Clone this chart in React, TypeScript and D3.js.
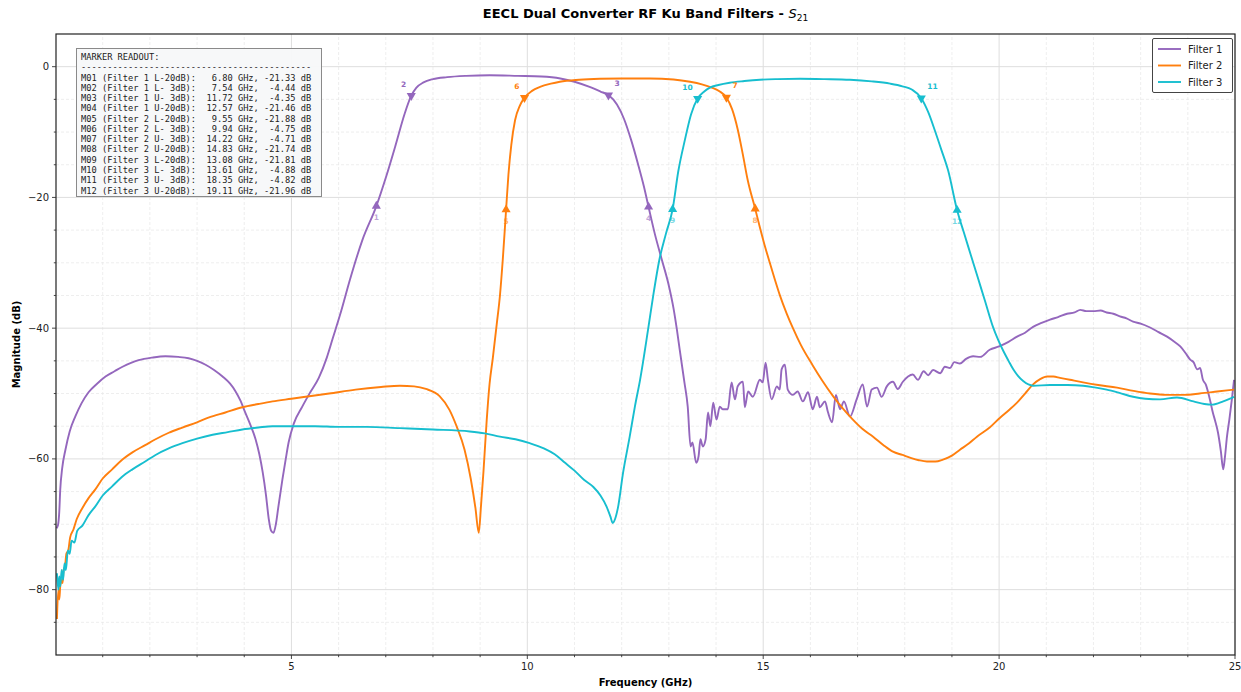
import React, { useEffect, useRef } from 'react'
import * as d3 from 'd3'

// ---- data ----
const filterNames = ['Filter 1', 'Filter 2', 'Filter 3']
const filterColors = ['#9467bd', '#ff7f0e', '#17becf']

// [frequency GHz, magnitude dB]
const filter1: [number, number][] = [
  [0.02, -70.6], [0.05, -70.2], [0.08, -68], [0.1, -64.7], [0.14, -61.5], [0.21, -58.6], [0.3, -55.8],
  [0.42, -53.5], [0.55, -51.5], [0.7, -49.8], [0.88, -48.5], [1.06, -47.4], [1.25, -46.6], [1.42, -45.9],
  [1.6, -45.3], [1.76, -44.9], [2.05, -44.5], [2.33, -44.3], [2.6, -44.4], [2.82, -44.6], [3.0, -45],
  [3.18, -45.6], [3.36, -46.4], [3.54, -47.4], [3.7, -48.5], [3.81, -49.6], [3.92, -51.1], [4.02, -52.9],
  [4.13, -54.8], [4.24, -57], [4.32, -59.3], [4.39, -62], [4.46, -65.5], [4.52, -69.2], [4.57, -71],
  [4.62, -71.3], [4.67, -70], [4.72, -67.5], [4.81, -63.1], [4.88, -60], [4.94, -57.5], [5.05, -54.6],
  [5.23, -52], [5.4, -49.8], [5.58, -47.6], [5.75, -44.5], [5.87, -41.7], [6.05, -37.5], [6.24, -32.6],
  [6.5, -26.6], [6.8, -21.33], [7.0, -17], [7.2, -12.2], [7.4, -7.2], [7.54, -4.44], [7.65, -3.2],
  [7.8, -2.4], [8.0, -1.9], [8.3, -1.6], [8.7, -1.4], [9.2, -1.3], [9.8, -1.4], [10.3, -1.5],
  [10.7, -1.8], [11.0, -2.3], [11.32, -3.1], [11.55, -3.8], [11.72, -4.35], [11.9, -5.8], [12.05, -8],
  [12.2, -11.2], [12.35, -15], [12.47, -18.3], [12.57, -21.46], [12.7, -25.5], [12.85, -29.5],
  [13.0, -33.5], [13.1, -37], [13.17, -40.2], [13.23, -43.3], [13.33, -48.3], [13.4, -52], [13.46, -58.1],
  [13.5, -57.5], [13.58, -60.6], [13.63, -59.6], [13.67, -57], [13.72, -58.1], [13.78, -57], [13.83, -52.9],
  [13.88, -55], [13.94, -51.4], [14.01, -54], [14.08, -52], [14.14, -52.4], [14.25, -52.4], [14.33, -48.3],
  [14.4, -50.9], [14.46, -48.9], [14.57, -48.2], [14.61, -52.1], [14.68, -49.7], [14.78, -50.5],
  [14.93, -47.9], [14.99, -48.3], [15.05, -45.3], [15.1, -47.9], [15.18, -50.9], [15.29, -48.9],
  [15.35, -49.4], [15.39, -46.3], [15.46, -45.6], [15.52, -49.4], [15.63, -50.2], [15.73, -49.7],
  [15.84, -51.2], [15.95, -49.8], [16.05, -52.4], [16.14, -50.5], [16.2, -52.1], [16.31, -51.2],
  [16.37, -52.8], [16.46, -54.4], [16.54, -50.2], [16.63, -52.4], [16.71, -51.2], [16.84, -53.5],
  [16.98, -50.9], [17.11, -48.6], [17.2, -52], [17.3, -49.4], [17.41, -49.1], [17.51, -50.5],
  [17.62, -48.9], [17.75, -48.2], [17.85, -49.3], [17.96, -48.2], [18.07, -47.4], [18.17, -47.1],
  [18.28, -47.9], [18.4, -46.6], [18.5, -47.2], [18.6, -46.4], [18.75, -46.9], [18.85, -45.9],
  [18.96, -46.1], [19.05, -45.2], [19.17, -45.4], [19.3, -44.7], [19.45, -44.3], [19.6, -44.4],
  [19.8, -43.3], [20.0, -42.8], [20.2, -42.1], [20.38, -41.3], [20.55, -40.7], [20.72, -39.8],
  [20.9, -39.2], [21.08, -38.7], [21.25, -38.3], [21.44, -37.8], [21.6, -37.6], [21.72, -37.2],
  [21.85, -37.4], [22.0, -37.4], [22.15, -37.3], [22.28, -37.6], [22.42, -37.8], [22.56, -38.2],
  [22.7, -38.5], [22.84, -39], [23.0, -39.3], [23.2, -39.9], [23.38, -40.6], [23.56, -41.3],
  [23.7, -42.0], [23.84, -42.8], [23.95, -43.8], [24.05, -44.8], [24.12, -45.2], [24.2, -46.3],
  [24.26, -46.1], [24.32, -47.9], [24.38, -48.6], [24.43, -49.8], [24.48, -51.3], [24.53, -52.9],
  [24.58, -54.2], [24.64, -56], [24.7, -58.8], [24.75, -61.6], [24.79, -59.5], [24.83, -56.6],
  [24.88, -54.0], [24.94, -50.5], [24.98, -47.9]
]

const filter2: [number, number][] = [
  [0.03, -84.5], [0.06, -80], [0.08, -81.5], [0.1, -79.5], [0.13, -78.5], [0.15, -79], [0.17, -77],
  [0.2, -76.5], [0.23, -74.5], [0.27, -74], [0.31, -72], [0.38, -70.8], [0.45, -69.2], [0.57, -67.5],
  [0.7, -66], [0.84, -64.7], [1.0, -63], [1.2, -61.6], [1.4, -60.2], [1.63, -59], [1.9, -57.9],
  [2.12, -57], [2.4, -56], [2.69, -55.2], [3.0, -54.4], [3.24, -53.7], [3.6, -52.9], [3.96, -52.1],
  [4.3, -51.6], [4.6, -51.2], [5.0, -50.8], [5.3, -50.5], [5.8, -50], [6.36, -49.4], [6.9, -49.0],
  [7.3, -48.8], [7.6, -48.9], [7.85, -49.3], [8.14, -50.4], [8.35, -52.5], [8.5, -55], [8.67, -58.6],
  [8.8, -63], [8.9, -67.5], [8.97, -71.3], [9.02, -67], [9.07, -62], [9.14, -54], [9.2, -48.5],
  [9.27, -44.5], [9.35, -39.5], [9.42, -35], [9.48, -29.5], [9.55, -21.88], [9.6, -16.5], [9.66, -12],
  [9.74, -8.2], [9.84, -6], [9.94, -4.75], [10.1, -3.7], [10.27, -3.1], [10.5, -2.6], [10.69, -2.3],
  [11.1, -2.0], [11.54, -1.85], [12.0, -1.8], [12.6, -1.8], [13.1, -1.95], [13.45, -2.3], [13.7, -2.7],
  [13.91, -3.2], [14.08, -3.8], [14.22, -4.71], [14.34, -6.5], [14.46, -9.6], [14.57, -13.5],
  [14.67, -17.3], [14.83, -21.74], [14.93, -24.6], [15.03, -27.3], [15.14, -30], [15.24, -32.4],
  [15.35, -34.9], [15.5, -37.8], [15.63, -40.0], [15.8, -42.6], [16.05, -45.7], [16.25, -48.0],
  [16.48, -50.4], [16.7, -52.4], [16.9, -54], [17.1, -55.4], [17.33, -56.6], [17.55, -57.9],
  [17.75, -58.9], [17.95, -59.4], [18.11, -59.8], [18.3, -60.2], [18.47, -60.4], [18.65, -60.4],
  [18.81, -60.1], [19.0, -59.5], [19.17, -58.6], [19.35, -57.7], [19.53, -56.6], [19.8, -55.2],
  [20.02, -53.7], [20.2, -52.6], [20.38, -51.4], [20.55, -50], [20.72, -48.6], [20.87, -47.8],
  [21.02, -47.4], [21.15, -47.4], [21.29, -47.6], [21.5, -47.9], [21.78, -48.3], [22.1, -48.7],
  [22.5, -49.1], [22.85, -49.6], [23.2, -50], [23.55, -50.2], [23.9, -50.2], [24.25, -50], [24.62, -49.7],
  [24.98, -49.4]
]

const filter3: [number, number][] = [
  [0.03, -77.5], [0.06, -80], [0.08, -78], [0.1, -79.5], [0.13, -77], [0.16, -78.5], [0.19, -76],
  [0.22, -77], [0.26, -74], [0.3, -74.5], [0.34, -72.5], [0.4, -72.8], [0.46, -71], [0.57, -70.2],
  [0.7, -68.6], [0.84, -67.3], [1.0, -65.6], [1.2, -64.2], [1.4, -62.8], [1.63, -61.6], [1.9, -60.4],
  [2.12, -59.4], [2.4, -58.4], [2.69, -57.6], [3.0, -56.9], [3.33, -56.3], [3.65, -55.9], [3.96, -55.5],
  [4.3, -55.2], [4.6, -55.0], [5.0, -55], [5.5, -55], [6.0, -55.1], [6.6, -55.1], [7.3, -55.3],
  [8.0, -55.5], [8.78, -55.8], [9.1, -56.1], [9.42, -56.6], [9.75, -57], [10.05, -57.6], [10.35, -58.4],
  [10.58, -59.3], [10.8, -60.6], [11.0, -61.8], [11.2, -63.2], [11.4, -64.3], [11.55, -65.6],
  [11.68, -67.3], [11.76, -68.8], [11.81, -69.8], [11.86, -69.2], [11.92, -67.5], [12.03, -62.1],
  [12.17, -56.6], [12.28, -52], [12.39, -47.9], [12.56, -40.2], [12.68, -34.5], [12.8, -29.5],
  [12.94, -25.5], [13.08, -21.81], [13.2, -16], [13.34, -11.2], [13.47, -7.3], [13.61, -4.88],
  [13.75, -3.8], [13.87, -3.2], [14.05, -2.8], [14.29, -2.45], [14.6, -2.2], [14.93, -2.0], [15.3, -1.9],
  [15.78, -1.85], [16.3, -1.9], [16.84, -2.0], [17.3, -2.25], [17.69, -2.6], [17.95, -3.0], [18.15, -3.5],
  [18.35, -4.82], [18.5, -7], [18.64, -9.8], [18.78, -12.8], [18.92, -15.9], [19.11, -21.96],
  [19.25, -25.3], [19.4, -28.8], [19.55, -32.3], [19.7, -35.8], [19.87, -39.8], [19.98, -41.8],
  [20.09, -43.5], [20.2, -45.0], [20.3, -46.3], [20.4, -47.3], [20.51, -48.1], [20.72, -48.8],
  [21.08, -48.7], [21.45, -48.7], [21.78, -48.8], [22.05, -49.1], [22.28, -49.4], [22.55, -49.9],
  [22.84, -50.5], [23.1, -50.8], [23.41, -50.9], [23.77, -50.6], [24.12, -51.2], [24.35, -51.6],
  [24.52, -51.7], [24.75, -51.2], [24.98, -50.5]
]

const markerFreq = [6.80, 7.54, 11.72, 12.57, 9.55, 9.94, 14.22, 14.83, 13.08, 13.61, 18.35, 19.11]
const markerMag = [-21.33, -4.44, -4.35, -21.46, -21.88, -4.75, -4.71, -21.74, -21.81, -4.88, -4.82, -21.96]
const markerFilter = [1, 1, 1, 1, 2, 2, 2, 2, 3, 3, 3, 3]
const markerEdge = ['L', 'L', 'U', 'U', 'L', 'L', 'U', 'U', 'L', 'L', 'U', 'U']
const markerLevel = [20, 3, 3, 20, 20, 3, 3, 20, 20, 3, 3, 20]

const xMajorTicks = [5, 10, 15, 20, 25]
const yMajorTicks = [0, -20, -40, -60, -80]

export default function App() {
  const ref = useRef<SVGSVGElement>(null)

  useEffect(() => {
    const width = 1241
    const height = 692
    const margin = { top: 34, right: 6, bottom: 37, left: 56 }

    const svg = d3.select(ref.current)
    svg.selectAll('*').remove()
    svg.attr('width', width).attr('height', height)
    svg.append('rect').attr('width', width).attr('height', height).attr('fill', '#fff')

    const x = d3.scaleLinear().domain([0.01, 25]).range([margin.left, width - margin.right])
    const y = d3.scaleLinear().domain([-90, 5]).range([height - margin.bottom, margin.top])
    const [x0, x1] = x.range()
    const [y0, y1] = y.range()

    const xMinor = d3.range(1, 25).filter(v => v % 5 !== 0)
    const yMinor = d3.range(-85, 5, 5).filter(v => v % 20 !== 0)

    // grid
    const grid = svg.append('g')
    grid.selectAll('.xm').data(xMinor).enter().append('line')
      .attr('x1', d => x(d)).attr('x2', d => x(d)).attr('y1', y0).attr('y2', y1)
      .attr('stroke', '#e6e6e6').attr('stroke-width', 0.7).attr('stroke-dasharray', '3,2')
    grid.selectAll('.ym').data(yMinor).enter().append('line')
      .attr('y1', d => y(d)).attr('y2', d => y(d)).attr('x1', x0).attr('x2', x1)
      .attr('stroke', '#e6e6e6').attr('stroke-width', 0.7).attr('stroke-dasharray', '3,2')
    grid.selectAll('.xM').data(xMajorTicks).enter().append('line')
      .attr('x1', d => x(d)).attr('x2', d => x(d)).attr('y1', y0).attr('y2', y1)
      .attr('stroke', '#dedede').attr('stroke-width', 1)
    grid.selectAll('.yM').data(yMajorTicks).enter().append('line')
      .attr('y1', d => y(d)).attr('y2', d => y(d)).attr('x1', x0).attr('x2', x1)
      .attr('stroke', '#dedede').attr('stroke-width', 1)

    // curves
    const line = d3.line<[number, number]>()
      .x(d => x(d[0]))
      .y(d => y(d[1]))
      .curve(d3.curveMonotoneX)

    const series = [filter1, filter2, filter3]
    series.forEach((s, i) => {
      svg.append('path')
        .attr('d', line(s))
        .attr('fill', 'none')
        .attr('stroke', filterColors[i])
        .attr('stroke-width', 1.9)
        .attr('stroke-linejoin', 'round')
    })

    // markers
    const tri = d3.symbol(d3.symbolTriangle, 36)
    markerFreq.forEach((f, i) => {
      const color = filterColors[markerFilter[i] - 1]
      const px = x(f)
      const py = y(markerMag[i])
      const is20 = markerLevel[i] === 20
      svg.append('path')
        .attr('d', tri())
        .attr('transform', `translate(${px},${py}) rotate(${is20 ? 0 : 180})`)
        .attr('fill', color)
      const label = svg.append('text')
        .text(String(i + 1))
        .attr('fill', color)
        .attr('font-family', 'DejaVu Sans')
        .attr('font-weight', 'bold')
        .attr('font-size', 7.5)
      if (is20) {
        label.attr('x', px).attr('y', py + 14).attr('text-anchor', 'middle').attr('fill-opacity', 0.6)
      } else if (markerEdge[i] === 'L') {
        label.attr('x', px - 5).attr('y', py - 9).attr('text-anchor', 'end')
      } else {
        label.attr('x', px + 6).attr('y', py - 9).attr('text-anchor', 'start')
      }
    })

    // spines
    svg.append('rect')
      .attr('x', x0).attr('y', y1).attr('width', x1 - x0).attr('height', y0 - y1)
      .attr('fill', 'none').attr('stroke', '#222').attr('stroke-width', 1.2)

    // ticks
    const axisFont = 'DejaVu Sans'
    const tickG = svg.append('g').attr('stroke', '#333').attr('stroke-width', 0.9)
    xMajorTicks.forEach(v => tickG.append('line').attr('x1', x(v)).attr('x2', x(v)).attr('y1', y0).attr('y2', y0 + 4))
    xMinor.forEach(v => tickG.append('line').attr('x1', x(v)).attr('x2', x(v)).attr('y1', y0).attr('y2', y0 + 2.2))
    yMajorTicks.forEach(v => tickG.append('line').attr('y1', y(v)).attr('y2', y(v)).attr('x1', x0).attr('x2', x0 - 4))
    yMinor.forEach(v => tickG.append('line').attr('y1', y(v)).attr('y2', y(v)).attr('x1', x0).attr('x2', x0 - 2.2))

    svg.append('g').selectAll('text').data(xMajorTicks).enter().append('text')
      .attr('x', d => x(d)).attr('y', y0 + 15)
      .attr('text-anchor', 'middle').attr('font-family', axisFont).attr('font-size', 10).attr('fill', '#222')
      .text(d => String(d))
    svg.append('g').selectAll('text').data(yMajorTicks).enter().append('text')
      .attr('x', x0 - 7).attr('y', d => y(d) + 3.6)
      .attr('text-anchor', 'end').attr('font-family', axisFont).attr('font-size', 10).attr('fill', '#222')
      .text(d => (d < 0 ? '\u2212' + Math.abs(d) : String(d)))

    // axis labels + title
    svg.append('text')
      .attr('x', (x0 + x1) / 2).attr('y', 686)
      .attr('text-anchor', 'middle').attr('font-family', axisFont).attr('font-size', 10).attr('font-weight', 'bold')
      .text('Frequency (GHz)')
    svg.append('text')
      .attr('transform', `translate(20,${(y0 + y1) / 2}) rotate(-90)`)
      .attr('text-anchor', 'middle').attr('font-family', axisFont).attr('font-size', 10).attr('font-weight', 'bold')
      .text('Magnitude (dB)')

    const title = svg.append('text')
      .attr('x', (x0 + x1) / 2).attr('y', 18)
      .attr('text-anchor', 'middle').attr('font-family', axisFont).attr('font-size', 13).attr('font-weight', 'bold')
    title.append('tspan').text('EECL Dual Converter RF Ku Band Filters - ')
    title.append('tspan').attr('font-style', 'italic').attr('font-weight', 'normal').text('S')
    title.append('tspan').attr('font-weight', 'normal').attr('font-size', 9).attr('dy', 3).text('21')

    // marker readout box
    const lines = markerFreq.map((f, i) => {
      const id = String(i + 1).padStart(2, '0')
      const lvl = String(markerLevel[i]).padStart(2, ' ')
      return `M${id} (Filter ${markerFilter[i]} ${markerEdge[i]}-${lvl}dB): ${f.toFixed(2).padStart(6, ' ')} GHz, ${markerMag[i].toFixed(2).padStart(6, ' ')} dB`
    })
    const box = svg.append('g')
    box.append('rect')
      .attr('x', 76.5).attr('y', 48.5).attr('width', 245).attr('height', 148)
      .attr('fill', '#f7f8f9').attr('fill-opacity', 0.95).attr('stroke', '#8a8a8a').attr('stroke-width', 1)
    const mono = box.append('text')
      .attr('font-family', 'DejaVu Sans Mono').attr('font-size', 8.7).attr('fill', '#222')
      .attr('xml:space', 'preserve').style('white-space', 'pre')
    const allLines = ['MARKER READOUT:', '-'.repeat(44), ...lines]
    allLines.forEach((t, i) => {
      mono.append('tspan').attr('x', 81).attr('y', 60 + i * 10.27).text(t)
    })

    // legend
    const lg = svg.append('g')
    lg.append('rect')
      .attr('x', 1152.5).attr('y', 38.5).attr('width', 80).attr('height', 54).attr('rx', 1.5)
      .attr('fill', '#fff').attr('stroke', '#444').attr('stroke-width', 1)
    filterNames.forEach((n, i) => {
      const ly = 49 + i * 16.5
      lg.append('line').attr('x1', 1158).attr('x2', 1181).attr('y1', ly).attr('y2', ly)
        .attr('stroke', filterColors[i]).attr('stroke-width', 1.9)
      lg.append('text').attr('x', 1188).attr('y', ly + 3.6)
        .attr('font-family', axisFont).attr('font-size', 10).attr('fill', '#222').text(n)
    })
  }, [])

  return (
    <div style={{ position: 'absolute', left: 0, top: 0 }}>
      <svg ref={ref} style={{ display: 'block' }}></svg>
    </div>
  )
}
